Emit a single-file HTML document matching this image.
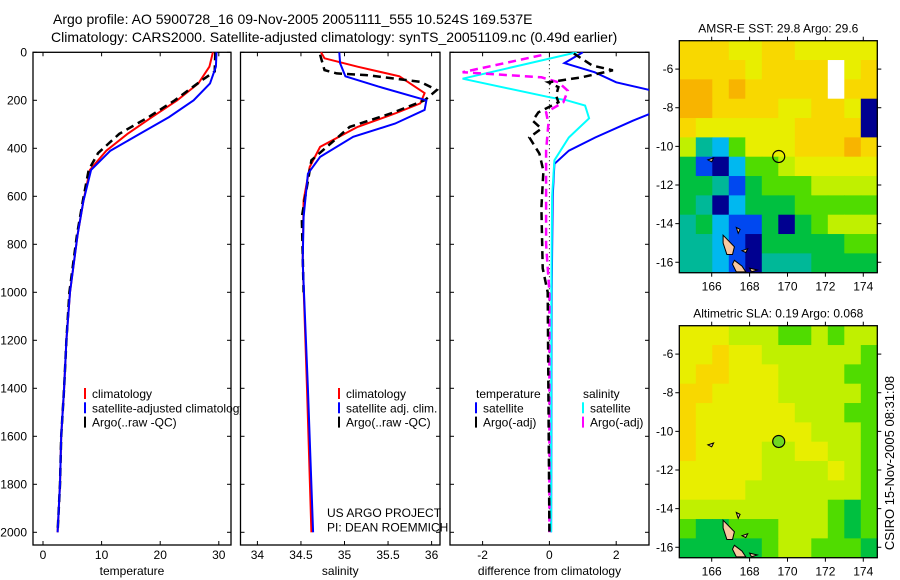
<!DOCTYPE html>
<html><head><meta charset="utf-8"><style>
body{margin:0;background:#fff;}
svg{display:block;font-family:"Liberation Sans",sans-serif;}
</style></head><body>
<svg id="fig" width="900" height="580" viewBox="0 0 900 580" xmlns="http://www.w3.org/2000/svg">
<defs>
<clipPath id="c1"><rect x="33" y="52" width="198" height="493"/></clipPath>
<clipPath id="c2"><rect x="240.5" y="52" width="199.5" height="493"/></clipPath>
<clipPath id="c3"><rect x="450" y="52" width="199" height="493"/></clipPath>
<clipPath id="cl1"><rect x="84" y="380" width="156" height="60"/></clipPath>
</defs>
<text x="53" y="24" font-size="14">Argo profile: AO 5900728_16 09-Nov-2005 20051111_555 10.524S 169.537E</text>
<text x="51" y="42" font-size="14">Climatology: CARS2000. Satellite-adjusted climatology: synTS_20051109.nc (0.49d earlier)</text>
<g id="g1"></g>
<g id="g2"></g>
<g id="g3"></g>
<g id="m1"></g>
<g id="m2"></g>
<text x="0" y="0" font-size="13" transform="translate(894,463) rotate(-90)" text-anchor="middle">CSIRO 15-Nov-2005 08:31:08</text>
</svg>
<script>
// ---- profile data ----
const tDepth=[0,60,130,200,270,340,410,490,620,760,870,1000,1200,1400,1600,1800,2000];
const tClim=[29.0,28.4,26.5,22.9,18.6,14.4,10.8,8.0,6.9,5.9,5.3,4.6,4.0,3.6,3.1,2.9,2.5];
const tSat=[29.6,29.5,28.5,25.7,21.5,16.5,11.5,8.2,6.9,5.9,5.3,4.6,4.0,3.6,3.1,2.9,2.5];
const tArgoD=[0,80,115,200,270,340,420,490,620,760,870,1000,1200,1400,1600,1800,2000];
const tArgo=[29.4,29.3,27.2,22.5,18.0,13.0,9.4,7.8,6.8,5.8,5.2,4.5,4.0,3.6,3.1,2.9,2.5];
const sClimD=[0,25,60,100,170,213,255,311,394,478,617,870,1400,2000];
const sClim=[34.73,34.77,35.15,35.63,35.92,35.87,35.58,35.15,34.72,34.60,34.53,34.52,34.57,34.62];
const sSatD=[0,46,100,143,200,240,297,352,436,506,687,870,1400,2000];
const sSat=[34.94,34.95,35.01,35.39,35.94,35.92,35.58,35.10,34.72,34.58,34.53,34.52,34.58,34.64];
const sArgoD=[10,74,88,95,123,157,200,255,311,450,687,1000];
const sArgo=[34.72,34.77,34.91,35.25,35.87,36.06,35.92,35.53,35.06,34.62,34.51,34.53];
const dTSatD=[0,45,83,125,170,234,285,355,410,465,600,1000,2000];
const dTSat=[1.0,0.45,1.35,2.0,3.4,3.4,2.5,1.37,0.58,0.15,0.1,0.07,0.05];
const dSSatD=[0,110,187,200,222,275,355,450,600,1000,2000];
const dSSat=[0.82,-2.6,0,0.52,1.07,1.19,0.58,0.15,0.08,0.06,0.05];
const dSArgoD=[12,83,104,125,160,208,250,297,410,800,1000,2000];
const dSArgo=[-0.24,-2.6,-0.24,0.27,0.55,0.42,-0.1,-0.03,-0.1,-0.1,0,0];
const dTArgoD=[5,55,75,104,125,145,180,208,250,285,318,355,422,494,648,900,1000,2000];
const dTArgo=[0.73,1.28,1.9,0.97,-0.03,0.27,0.2,0.27,-0.33,-0.5,-0.24,-0.6,-0.3,-0.18,-0.24,-0.2,-0.05,0];
const depthTicks=[0,200,400,600,800,1000,1200,1400,1600,1800,2000];
const tTicks=[0,10,20,30];
const sTicks=[34,34.5,35,35.5,36];
const sTickLabels=["34","34.5","35","35.5","36"];
const dTicks=[-2,0,2];
// ---- map data (digit = colour class, W = missing) ----
const sstRows=["888778877777","888878888W78","998988888W88","998888778870","877777788880","632577788898","410255677777","443145556666","430244455555","342114045666","332104444455","332103334444"];
const slaRows=["777666556566","778776666665","788777666655","887777666665","877777766655","877777776665","877776677665","777776666765","777766666665","666666666545","544555666545","444445665554"];
const palette=["#000090","#0048f0","#00b8f0","#00b898","#00c040","#50dc00","#c0f000","#e8ee00","#f8d800","#f8b400"];
const islands=[[[166.6,-14.6],[167.2,-15.2],[167.1,-15.6],[166.8,-15.6],[166.6,-15.0]],[[167.2,-15.9],[167.6,-16.2],[167.8,-16.5],[167.3,-16.5],[167.1,-16.1]],[[168.0,-16.3],[168.4,-16.4],[168.1,-16.5]],[[165.8,-10.7],[166.1,-10.6],[166.0,-10.8]],[[167.3,-14.2],[167.5,-14.3],[167.4,-14.5]],[[167.6,-15.4],[167.9,-15.3],[167.8,-15.5]]];
const NS="http://www.w3.org/2000/svg";
function mk(p,tag,at){const e=document.createElementNS(NS,tag);for(const k in at)e.setAttribute(k,at[k]);p.appendChild(e);return e;}
const dy=d=>52.3+d*0.24;
function panel(g,x0,x1,xs,ticks,labels,xlabel,clip){
  mk(g,'rect',{x:x0,y:52.3,width:x1-x0,height:492.7,fill:'none',stroke:'#000','stroke-width':1.3});
  ticks.forEach((t,i)=>{const x=xs(t);
    mk(g,'line',{x1:x,x2:x,y1:545,y2:541,stroke:'#000'});
    mk(g,'line',{x1:x,x2:x,y1:52.3,y2:56.3,stroke:'#000'});
    const tx=mk(g,'text',{x:x,y:559,'font-size':12,'text-anchor':'middle'});tx.textContent=labels[i];
    
    });
  depthTicks.forEach(d=>{const y=dy(d);
    mk(g,'line',{x1:x0,x2:x0+4,y1:y,y2:y,stroke:'#000'});
    mk(g,'line',{x1:x1,x2:x1-4,y1:y,y2:y,stroke:'#000'});});
  const xl=mk(g,'text',{x:(x0+x1)/2,y:575,'font-size':12,'text-anchor':'middle'});xl.textContent=xlabel;
  
  
}
function line(g,D,V,xs,col,dash,clip,name,w){
  const pts=D.map((d,i)=>xs(V[i]).toFixed(1)+','+dy(d).toFixed(1)).join(' ');
  const p=mk(g,'polyline',{points:pts,fill:'none',stroke:col,'stroke-width':w||2,'clip-path':'url(#'+clip+')'});
  if(dash)p.setAttribute('stroke-dasharray',dash);
  
  
}
function legend(g,x,y,items,clip){
  const lg=mk(g,'g',{});
  if(clip)lg.setAttribute('clip-path','url(#'+clip+')');
  
  
  items.forEach((it,i)=>{const yy=y+i*14.3;
    if(it[1]){mk(lg,'line',{x1:x,x2:x,y1:yy-10,y2:yy+1,stroke:it[1],'stroke-width':2});}
    const t=mk(lg,'text',{x:x+(it[1]?7:0),y:yy,'font-size':12});t.textContent=it[0];
    
    });
}
// panel 1
const g1=document.getElementById('g1');const xt=v=>43+v*5.86;
panel(g1,33,231,xt,tTicks,tTicks.map(String),'temperature');
depthTicks.forEach(d=>{const t=mk(g1,'text',{x:27,y:dy(d)+4,'font-size':12,'text-anchor':'end'});t.textContent=d;
  
  });
line(g1,tDepth,tClim,xt,'#f00',null,'c1','temp-climatology-line');
line(g1,tArgoD,tArgo,xt,'#000','8,5','c1','temp-argo-line',2.5);
line(g1,tDepth,tSat,xt,'#00f',null,'c1','temp-satellite-line');
legend(g1,85,398,[['climatology','#f00'],['satellite-adjusted climatology','#00f'],['Argo(..raw -QC)','#000']],'cl1');
// panel 2
const g2=document.getElementById('g2');const xsal=v=>257.4+(v-34)*87.1;
panel(g2,240.5,440,xsal,sTicks,sTickLabels,'salinity');
line(g2,sClimD,sClim,xsal,'#f00',null,'c2','sal-climatology-line');
line(g2,sArgoD,sArgo,xsal,'#000','8,5','c2','sal-argo-line',2.5);
line(g2,sSatD,sSat,xsal,'#00f',null,'c2','sal-satellite-line');
legend(g2,339,398,[['climatology','#f00'],['satellite adj. clim.','#00f'],['Argo(..raw -QC)','#000']]);
legend(g2,327,517,[['US ARGO PROJECT',null],['PI: DEAN ROEMMICH',null]]);
// panel 3
const g3=document.getElementById('g3');const xd=v=>549.4+v*33.4;
panel(g3,450,649,xd,dTicks,dTicks.map(String),'difference from climatology');
mk(g3,'line',{x1:xd(0),x2:xd(0),y1:52.3,y2:dy(2000),stroke:'#000','stroke-dasharray':'1,3'});
line(g3,dTSatD,dTSat,xd,'#00f',null,'c3','diff-temp-satellite-line');
line(g3,dSSatD,dSSat,xd,'#0ff',null,'c3','diff-sal-satellite-line');
line(g3,dSArgoD,dSArgo,xd,'#f0f','8,5','c3','diff-sal-argo-line',2.5);
line(g3,dTArgoD,dTArgo,xd,'#000','8,5','c3','diff-temp-argo-line',2.5);
legend(g3,476,398,[['temperature',null],['satellite','#00f'],['Argo(-adj)','#000']]);
legend(g3,583,398,[['salinity',null],['satellite','#0ff'],['Argo(-adj)','#f0f']]);
// maps
function map(g,top,rows,title,circFill){
  const L=679.3,R=877.3,B=top+232,lon0=164.29,lon1=174.74,lat0=-4.53,lat1=-16.54;
  const mx=lo=>L+(lo-lon0)/(lon1-lon0)*(R-L), my=la=>top+(la-lat0)/(lat1-lat0)*(B-top);
  const nr=rows.length,nc=rows[0].length,cw=(R-L)/nc,ch=(B-top)/nr;
  rows.forEach((r,i)=>{for(let j=0;j<nc;j++){const c=r[j];
    const e=mk(g,'rect',{x:(L+j*cw).toFixed(2),y:(top+i*ch).toFixed(2),width:(cw+0.5).toFixed(2),height:(ch+0.5).toFixed(2),fill:c==='W'?'#fff':palette[+c]});
    
    }});
  islands.forEach(p=>{const e=mk(g,'polygon',{points:p.map(q=>mx(q[0]).toFixed(1)+','+my(q[1]).toFixed(1)).join(' '),fill:'#f8c8a0',stroke:'#000','stroke-width':1});
    
    });
  const c=mk(g,'circle',{cx:mx(169.537),cy:my(-10.524),r:6,fill:circFill,stroke:'#000','stroke-width':1.2});
  
  
  mk(g,'rect',{x:L,y:top,width:R-L,height:B-top,fill:'none',stroke:'#000','stroke-width':1.3});
  [166,168,170,172,174].forEach(lo=>{const x=mx(lo);
    mk(g,'line',{x1:x,x2:x,y1:B,y2:B+4,stroke:'#000'});mk(g,'line',{x1:x,x2:x,y1:top,y2:top-4,stroke:'#000'});
    const t=mk(g,'text',{x:x,y:B+18,'font-size':12,'text-anchor':'middle'});t.textContent=lo;
    
    });
  [-6,-8,-10,-12,-14,-16].forEach(la=>{const y=my(la);
    mk(g,'line',{x1:L,x2:L-4,y1:y,y2:y,stroke:'#000'});mk(g,'line',{x1:R,x2:R+4,y1:y,y2:y,stroke:'#000'});
    const t=mk(g,'text',{x:L-6,y:y+4,'font-size':12,'text-anchor':'end'});t.textContent=la;
    
    });
  const tt=mk(g,'text',{x:(L+R)/2,y:top-8,'font-size':12,'text-anchor':'middle'});tt.textContent=title;
  
  
}
map(document.getElementById('m1'),40.7,sstRows,'AMSR-E SST: 29.8 Argo: 29.6','none');
map(document.getElementById('m2'),325.7,slaRows,'Altimetric SLA: 0.19 Argo: 0.068','#70d820');
</script>
</body></html>
